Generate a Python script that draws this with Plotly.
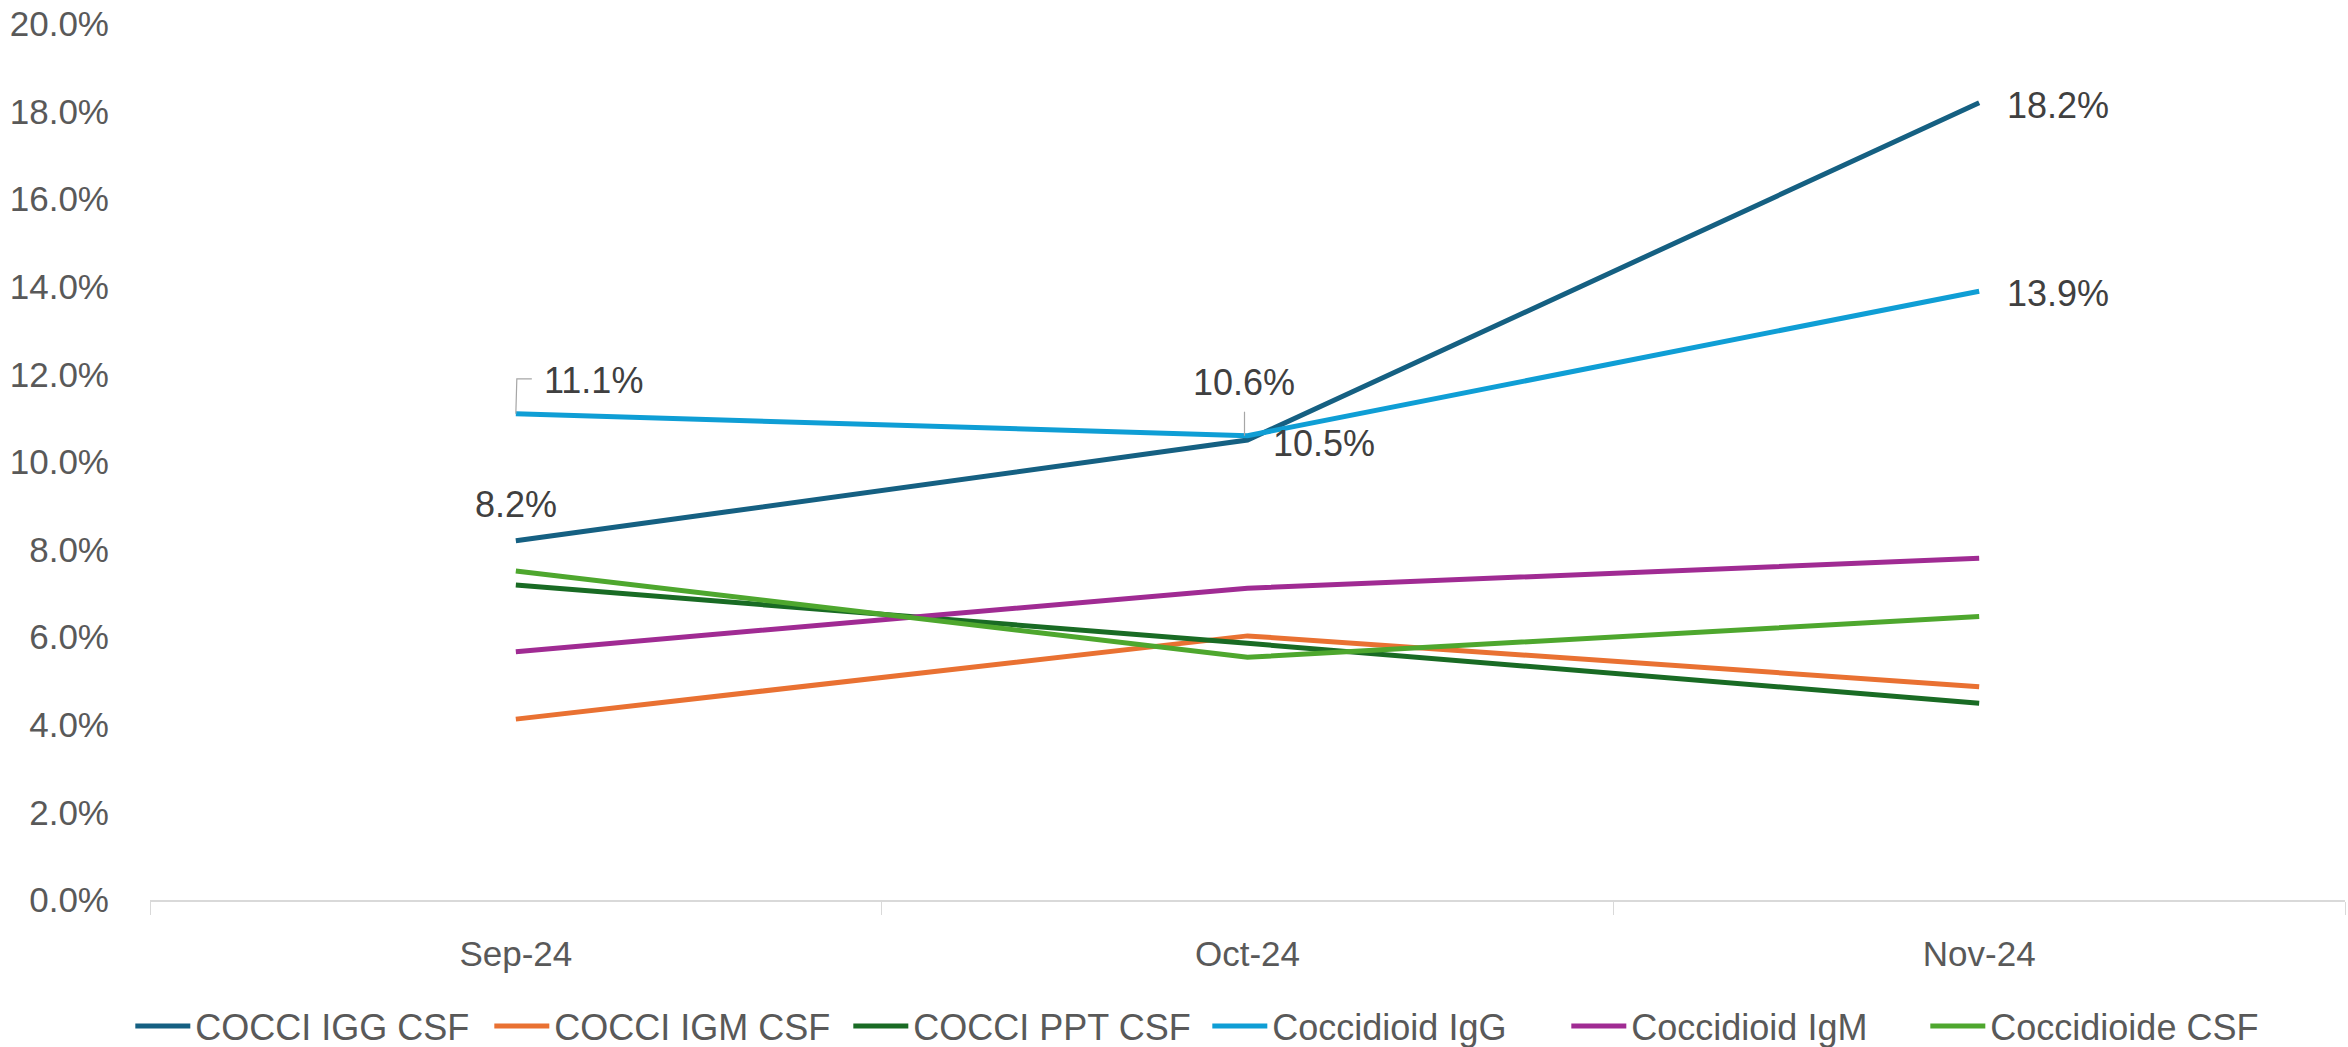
import plotly.graph_objects as go

# Monthly positivity rates by test
months = ["Sep-24", "Oct-24", "Nov-24"]
series_names = ["COCCI IGG CSF", "COCCI IGM CSF", "COCCI PPT CSF",
                "Coccidioid IgG", "Coccidioid IgM", "Coccidioide CSF"]
cocci_igg_csf = [0.082, 0.105, 0.182]
cocci_igm_csf = [0.0413, 0.0603, 0.0487]
cocci_ppt_csf = [0.0719, 0.0586, 0.0449]
coccidioid_igg = [0.111, 0.106, 0.139]
coccidioid_igm = [0.0567, 0.0712, 0.0780]
coccidioide_csf = [0.0751, 0.0554, 0.0647]
y_ticks = [0.0, 0.02, 0.04, 0.06, 0.08, 0.10, 0.12, 0.14, 0.16, 0.18, 0.20]

colors = ["#156082", "#E97132", "#196B24", "#0F9ED5", "#A02B93", "#4EA72E"]
values = [cocci_igg_csf, cocci_igm_csf, cocci_ppt_csf,
          coccidioid_igg, coccidioid_igm, coccidioide_csf]

FONT = "Liberation Sans"
fig = go.Figure()
for name, vals, col in zip(series_names, values, colors):
    fig.add_trace(go.Scatter(
        x=months, y=vals, name=name, mode="lines",
        line=dict(color=col, width=5),
    ))

# Value labels: (series values, month index, anchor, xshift, yshift)
label_specs = [
    (cocci_igg_csf, 0, "center", 0, 36),
    (cocci_igg_csf, 1, "left", 23, -3),
    (cocci_igg_csf, 2, "left", 26, -3),
    (coccidioid_igg, 0, "left", 26, 33),
    (coccidioid_igg, 1, "center", -4, 53),
    (coccidioid_igg, 2, "left", 26, -2),
]
for vals, i, anchor, xs, ys in label_specs:
    fig.add_annotation(
        x=months[i], y=vals[i], text=f"{vals[i]*100:.1f}%",
        showarrow=False, xanchor=anchor, yanchor="middle",
        xshift=xs, yshift=ys,
        font=dict(family=FONT, size=36, color="#404040"),
    )

# Leader lines for the Coccidioid IgG labels
fig.add_shape(type="path", xref="x", yref="y", xsizemode="pixel", ysizemode="pixel",
              xanchor=months[0], yanchor=coccidioid_igg[0],
              path="M0,0 L1,35 L16,35", line=dict(color="#a6a6a6", width=1.2))
fig.add_shape(type="path", xref="x", yref="y", xsizemode="pixel", ysizemode="pixel",
              xanchor=months[1], yanchor=coccidioid_igg[1],
              path="M-3,0 L-3,24", line=dict(color="#a6a6a6", width=1.2))

fig.update_layout(
    width=2348, height=1047,
    margin=dict(l=150, r=3, t=24, b=147),
    plot_bgcolor="white", paper_bgcolor="white",
    font=dict(family=FONT, color="#595959", size=35),
    showlegend=True,
    legend=dict(
        orientation="h", xref="container", yref="container",
        x=0.0555, xanchor="left", y=0.02, yanchor="middle",
        font=dict(family=FONT, size=36, color="#595959"),
        itemwidth=55, entrywidth=289, entrywidthmode="pixels",
    ),
)
fig.update_xaxes(
    type="category", range=[-0.5, 2.5],
    showline=True, linecolor="#d9d9d9", linewidth=1.5,
    ticks="outside", tickson="boundaries", ticklen=13, tickcolor="#d9d9d9",
    showgrid=False, ticklabelstandoff=22,
    tickfont=dict(family=FONT, size=35, color="#595959"),
)
fig.update_yaxes(
    range=[0, 0.2], tickvals=y_ticks, tickformat=".1%",
    showgrid=False, zeroline=False, showline=False,
    ticklabelstandoff=40,
    tickfont=dict(family=FONT, size=35, color="#595959"),
)

fig.write_html("out.html")
